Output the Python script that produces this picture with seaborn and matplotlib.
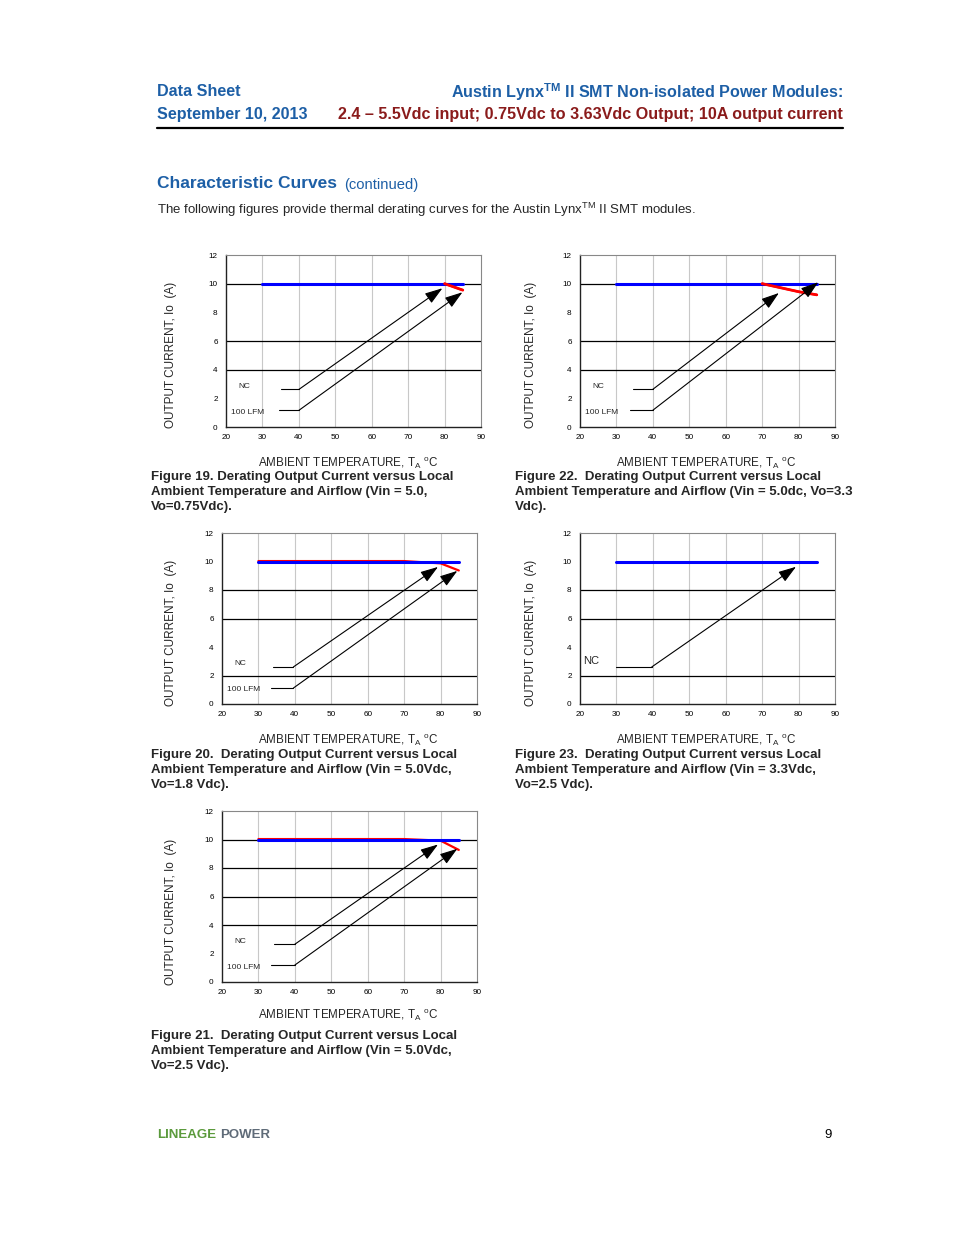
import numpy as np
import pandas as pd
import matplotlib
matplotlib.use("Agg")
import matplotlib.pyplot as plt
import seaborn as sns

# ---------------- data ----------------
x_ticks = [20, 30, 40, 50, 60, 70, 80, 90]
y_ticks = [0, 2, 4, 6, 8, 10, 12]

blue_t = [30, 85]
blue_io = [10.0, 10.0]

red19_t = [80, 85]
red19_io = [10.0, 9.55]
red22_t = [70, 75, 80, 85]
red22_io = [10.0, 9.72, 9.44, 9.22]
red20_t = [30, 70, 80, 85]
red20_io = [10.03, 10.03, 9.87, 9.37]
red21_t = [30, 70, 80, 85]
red21_io = [10.03, 10.03, 9.92, 9.27]

grid19 = [10, 6, 4]
grid22 = [10, 6, 4]
grid20 = [8, 6, 2]
grid23 = [8, 6, 2]
grid21 = [10, 8, 6, 4]

# arrows: (start_x, knee_x, knee_y, tip_x, tip_y)
nc19 = [35.0, 40.0, 2.62, 79.4, 9.68]
lfm19 = [34.5, 40.0, 1.16, 84.9, 9.40]
nc22 = [34.5, 40.0, 2.63, 74.6, 9.35]
lfm22 = [33.7, 40.0, 1.17, 85.4, 10.1]
nc20 = [34.1, 39.6, 2.60, 79.3, 9.62]
lfm20 = [33.5, 39.6, 1.12, 84.6, 9.34]
nc21 = [34.2, 40.0, 2.65, 79.3, 9.65]
lfm21 = [33.5, 40.0, 1.19, 84.6, 9.35]
nc23 = [29.9, 39.7, 2.60, 79.3, 9.63]

captions = {
    19: "Figure 19. Derating Output Current versus Local\nAmbient Temperature and Airflow (Vin = 5.0,\nVo=0.75Vdc).",
    22: "Figure 22.  Derating Output Current versus Local\nAmbient Temperature and Airflow (Vin = 5.0dc, Vo=3.3\nVdc).",
    20: "Figure 20.  Derating Output Current versus Local\nAmbient Temperature and Airflow (Vin = 5.0Vdc,\nVo=1.8 Vdc).",
    23: "Figure 23.  Derating Output Current versus Local\nAmbient Temperature and Airflow (Vin = 3.3Vdc,\nVo=2.5 Vdc).",
    21: "Figure 21.  Derating Output Current versus Local\nAmbient Temperature and Airflow (Vin = 5.0Vdc,\nVo=2.5 Vdc).",
}

# ---------------- style ----------------
sns.set_theme(style="white")
plt.rcParams['font.family'] = ['Liberation Sans', 'DejaVu Sans']
plt.rcParams['mathtext.fontset'] = 'custom'
plt.rcParams['mathtext.rm'] = 'Liberation Sans'
plt.rcParams['mathtext.bf'] = 'Liberation Sans:bold'
plt.rcParams['mathtext.it'] = 'Liberation Sans:italic'

W, H = 954, 1235
fig = plt.figure(figsize=(W / 100, H / 100), dpi=100)

BLUE_HDR = "#1d5fa6"
RED_HDR = "#8a1b1b"


def ftext(x, y, s, **kw):
    fig.text(x / W, 1 - y / H, s, **kw)


def make_axes(left, top, right, bottom):
    return fig.add_axes([left / W, 1 - bottom / H, (right - left) / W, (bottom - top) / H])


def draw_chart(box, grid, red_t, red_io, arrows, labels):
    ax = make_axes(*box)
    ax.set_xlim(20, 90)
    ax.set_ylim(0, 12)
    for xv in x_ticks[1:-1]:
        ax.axvline(xv, color="#c8c8c8", lw=0.8, zorder=1)
    for yv in grid:
        ax.axhline(yv, color="black", lw=0.9, zorder=1)
    if red_t is not None:
        sns.lineplot(x=red_t, y=red_io, ax=ax, color="#ff0000", lw=1.6, zorder=3, sort=False)
    sns.lineplot(x=blue_t, y=blue_io, ax=ax, color="#0000ff", lw=2.2, zorder=4, sort=False)
    if red_t is not None and red_t[0] >= 70:
        sns.lineplot(x=red_t, y=red_io, ax=ax, color="#ff0000", lw=2.0, zorder=5, sort=False)
    for a in arrows:
        ax.plot([a[0], a[1]], [a[2], a[2]], color="black", lw=0.8, zorder=6)
        ax.annotate("", xy=(a[3], a[4]), xytext=(a[1], a[2]),
                    arrowprops=dict(arrowstyle="-|>,head_length=0.9,head_width=0.3",
                                    color="black", lw=0.8, shrinkA=0, shrinkB=0),
                    zorder=7)
    for (s, xv, yv, fs) in labels:
        ax.text(xv, yv, s, fontsize=fs, ha="center", va="center", zorder=8)
    ax.set_xticks(x_ticks)
    ax.set_yticks(y_ticks)
    ax.set_xticklabels([str(v) for v in x_ticks])
    ax.set_yticklabels([str(v) for v in y_ticks])
    ax.tick_params(axis="both", length=0, labelsize=5.9, colors="black")
    ax.tick_params(axis="y", pad=6)
    ax.tick_params(axis="x", pad=5)
    for side in ["left", "bottom"]:
        ax.spines[side].set_color("#222222")
        ax.spines[side].set_linewidth(1.0)
    for side in ["top", "right"]:
        ax.spines[side].set_color("#888888")
        ax.spines[side].set_linewidth(0.8)
    ax.set_xlabel("")
    ax.set_ylabel("")
    return ax


draw_chart((226, 255, 481, 427), grid19, red19_t, red19_io, [nc19, lfm19],
           [("NC", 25.1, 2.82, 6.0), ("100 LFM", 25.9, 1.0, 6.0)])
draw_chart((580, 255, 835, 427), grid22, red22_t, red22_io, [nc22, lfm22],
           [("NC", 25.0, 2.82, 6.0), ("100 LFM", 26.0, 1.0, 6.0)])
draw_chart((222, 533, 477, 704), grid20, red20_t, red20_io, [nc20, lfm20],
           [("NC", 25.0, 2.82, 6.0), ("100 LFM", 26.0, 1.0, 6.0)])
draw_chart((580, 533, 835, 704), grid23, None, None, [nc23], [("NC", 23.2, 3.0, 8)])
draw_chart((222, 811, 477, 982), grid21, red21_t, red21_io, [nc21, lfm21],
           [("NC", 25.0, 2.82, 6.0), ("100 LFM", 26.0, 1.0, 6.0)])

# axis labels
ylab = "OUTPUT CURRENT, Io  (A)"
xlab = r"AMBIENT TEMPERATURE, T$_{\mathrm{A}}$ $^{\mathrm{o}}$C"
for (x, y) in [(171, 355), (531, 355), (171, 633), (531, 633), (171, 912)]:
    ftext(x, y, ylab, rotation=90, ha="center", va="center", fontsize=8.5)
for (x, y) in [(348, 463), (706, 463), (348, 740), (706, 740), (348, 1015)]:
    ftext(x, y, xlab, ha="center", va="center", fontsize=8.4)

# captions
for key, (x, y) in {19: (151, 477), 22: (515, 477), 20: (151, 755), 23: (515, 755), 21: (151, 1036)}.items():
    for i, line in enumerate(captions[key].split("\n")):
        ftext(x, y + 15 * i, line, ha="left", va="center", fontsize=9.5, fontweight="bold")

# header
ftext(157, 92, "Data Sheet", ha="left", va="center", fontsize=11.6, fontweight="bold", color=BLUE_HDR)
ftext(157, 115, "September 10, 2013", ha="left", va="center", fontsize=11.6, fontweight="bold", color=BLUE_HDR)
ftext(843, 92, r"Austin Lynx$^{\mathbf{TM}}$ II SMT Non-isolated Power Modules:", ha="right",
      va="center", fontsize=11.6, fontweight="bold", color=BLUE_HDR)
ftext(843, 115, "2.4 \u2013 5.5Vdc input; 0.75Vdc to 3.63Vdc Output; 10A output current", ha="right",
      va="center", fontsize=11.6, fontweight="bold", color=RED_HDR)
fig.add_artist(plt.Line2D([157 / W, 843 / W], [1 - 127.5 / H, 1 - 127.5 / H], color="black", lw=1.6))

ftext(157, 184, "Characteristic Curves", ha="left", va="center", fontsize=12.5, fontweight="bold",
      color=BLUE_HDR)
ftext(344, 185, "(continued)", ha="left", va="center", fontsize=10.6, color=BLUE_HDR)
ftext(157, 210, r"The following figures provide thermal derating curves for the Austin Lynx$^{\mathrm{TM}}$ II SMT modules.",
      ha="left", va="center", fontsize=9.5)

# footer
ftext(157, 1135, "LINEAGE", ha="left", va="center", fontsize=9.5, fontweight="bold", color="#5b9a3c")
ftext(220, 1135, "POWER", ha="left", va="center", fontsize=9.5, fontweight="bold", color="#5f6b78")
ftext(828, 1135, "9", ha="center", va="center", fontsize=9.5, color="black")

fig.savefig("out.png", dpi=100, facecolor="white")
